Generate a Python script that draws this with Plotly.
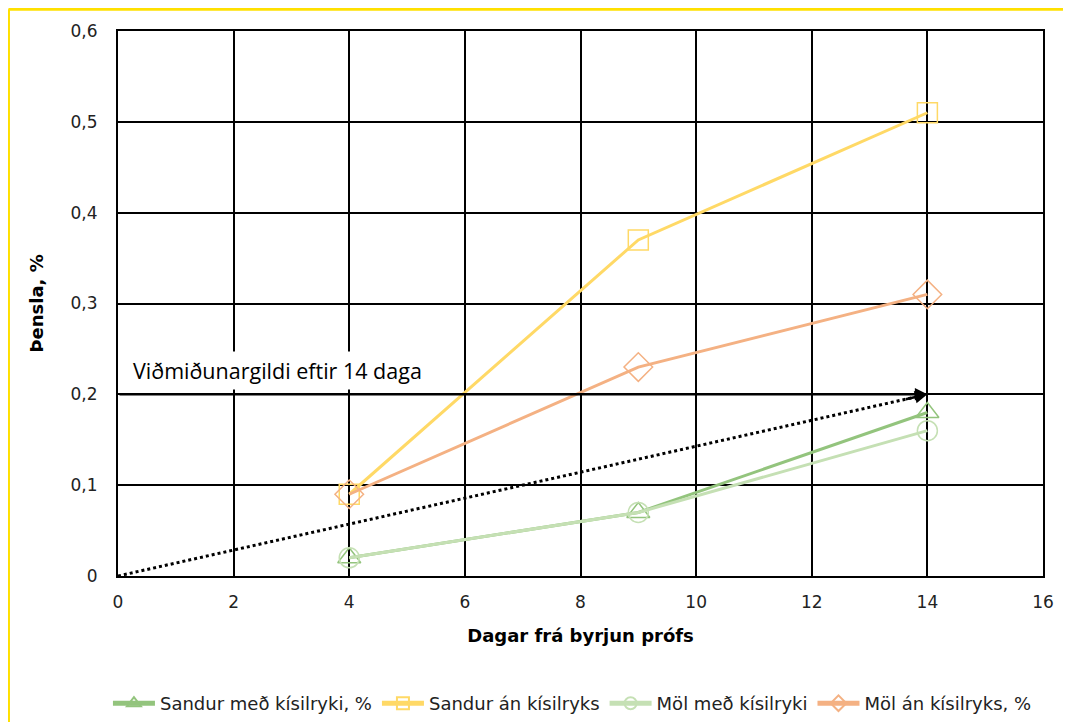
import plotly.graph_objects as go

days = [4, 9, 14]
sandur_med = [0.02, 0.07, 0.18]
sandur_an = [0.09, 0.37, 0.51]
mol_med = [0.02, 0.07, 0.16]
mol_an = [0.09, 0.23, 0.31]

series_names = ["Sandur með kísilryki, %", "Sandur án kísilryks", "Möl með kísilryki", "Möl án kísilryks, %"]

x_ticks = [0, 2, 4, 6, 8, 10, 12, 14, 16]
y_ticks = [0, 0.1, 0.2, 0.3, 0.4, 0.5, 0.6]
y_ticktext = ["0", "0,1", "0,2", "0,3", "0,4", "0,5", "0,6"]

limit_value = 0.2
limit_day = 14
limit_label = "Viðmiðunargildi eftir 14 daga"
trend_x = [0, 14]
trend_y = [0, 0.2]

FONT = "DejaVu Sans"

fig = go.Figure()

styles = [
    (sandur_med, "#93C47D", "triangle-up-open", 20),
    (sandur_an, "#FFD966", "square-open", 20),
    (mol_med, "#C5E0B4", "circle-open", 20),
    (mol_an, "#F4B183", "diamond-open", 22),
]
for (vals, col, sym, sz), name in zip(styles, series_names):
    fig.add_trace(go.Scatter(
        x=days, y=vals, name=name, mode="lines+markers",
        line=dict(color=col, width=3),
        marker=dict(symbol=sym, size=sz, color=col, line=dict(width=1.5, color=col)),
    ))

# dotted trend line (arrow)
fig.add_trace(go.Scatter(
    x=trend_x, y=trend_y, mode="lines", showlegend=False, hoverinfo="skip",
    line=dict(color="black", width=3, dash="dot"),
))

# label box (drawn first so the arrows sit on top)
fig.add_annotation(
    x=0.17, y=0.2265, xref="x", yref="y", xanchor="left", yanchor="middle",
    text=limit_label, showarrow=False, bgcolor="white", borderpad=4,
    font=dict(family="Open Sans", size=21.5, color="black"),
)
fig.add_annotation(
    x=trend_x[1], y=trend_y[1], ax=trend_x[1] - 0.4, ay=trend_y[1] - 0.4 * trend_y[1] / trend_x[1],
    xref="x", yref="y", axref="x", ayref="y", showarrow=True, arrowhead=2,
    arrowsize=1, arrowwidth=2.5, arrowcolor="black", text="",
)
fig.add_annotation(
    x=limit_day, y=limit_value, ax=0, ay=limit_value,
    xref="x", yref="y", axref="x", ayref="y", showarrow=True, arrowhead=2,
    arrowsize=1, arrowwidth=2.5, arrowcolor="black", text="",
)

# yellow frame
fig.add_shape(type="line", xref="paper", yref="paper", x0=-0.1184, x1=-0.1184, y0=1.04, y1=-0.35,
              line=dict(color="#FFE000", width=3))
fig.add_shape(type="line", xref="paper", yref="paper", x0=-0.1184, x1=1.1, y0=1.04, y1=1.04,
              line=dict(color="#FFE000", width=3))

fig.update_xaxes(
    range=[0, 16], tickvals=x_ticks, ticktext=[str(v) for v in x_ticks],
    showgrid=True, gridcolor="black", gridwidth=2, zeroline=False,
    showline=True, linecolor="black", linewidth=2, mirror=True,
    ticks="", ticklabelstandoff=10,
    tickfont=dict(family=FONT, size=17, color="#222"),
    title=dict(text="<b>Dagar frá byrjun prófs</b>", font=dict(family=FONT, size=18, color="black"), standoff=18),
)
fig.update_yaxes(
    range=[0, 0.6], tickvals=y_ticks, ticktext=y_ticktext,
    showgrid=True, gridcolor="black", gridwidth=2, zeroline=False,
    showline=True, linecolor="black", linewidth=2, mirror=True,
    ticks="", ticklabelstandoff=15,
    tickfont=dict(family=FONT, size=17, color="#222"),
    title=dict(text="<b>Þensla, %</b>", font=dict(family=FONT, size=18, color="black"), standoff=22),
)

fig.update_layout(
    width=1063, height=714,
    margin=dict(l=110, r=28, t=23, b=146),
    paper_bgcolor="white", plot_bgcolor="white",
    font=dict(family=FONT, color="black"),
    legend=dict(orientation="h", xref="container", x=0.531, xanchor="center",
                yref="container", y=0.0, yanchor="bottom",
                font=dict(family=FONT, size=18, color="#222"), itemwidth=42,
                itemsizing="constant", tracegroupgap=0),
    showlegend=True,
)

fig.write_html("out.html")
